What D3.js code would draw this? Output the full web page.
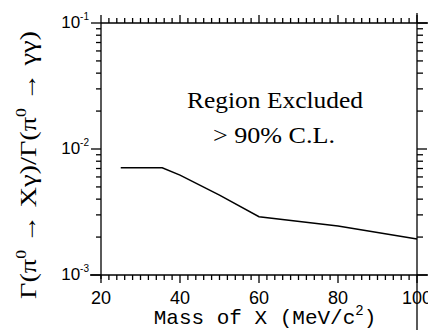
<!DOCTYPE html>
<html><head><meta charset="utf-8">
<script src="https://cdn.jsdelivr.net/npm/d3@7"></script>
<style>body{margin:0;background:#fff}svg{display:block}</style>
</head><body>
<svg id="c" width="428" height="330"></svg>
<script>
// Data
const mass = [25, 35.5, 40, 50, 60, 80, 100];
const ratio = [0.0071, 0.0071, 0.0062, 0.0043, 0.0029, 0.00245, 0.00193];
const xTicks = [20, 40, 60, 80, 100];
const yTicks = [1e-3, 1e-2, 1e-1];
const yTickExp = ["-3", "-2", "-1"];

const svg = d3.select("#c");
const L = 101, R = 417, T = 23, B = 275;
const x = d3.scaleLinear().domain([20, 100]).range([L, R]);
const y = d3.scaleLog().domain([1e-3, 1e-1]).range([B, T]);

const g = svg.append("g").attr("stroke", "#000").attr("fill", "none").attr("stroke-width", 1.3);
g.append("line").attr("x1", L - 11).attr("x2", 428).attr("y1", B).attr("y2", B);
g.append("line").attr("x1", L).attr("x2", 428).attr("y1", T).attr("y2", T);
g.append("line").attr("x1", L).attr("x2", L).attr("y1", T).attr("y2", B + 4);
g.append("line").attr("x1", R).attr("x2", R).attr("y1", T - 10).attr("y2", 330);

const xMinor = d3.range(20, 100.1, 2);
xMinor.forEach(v => {
  const major = v % 20 === 0;
  g.append("line").attr("x1", x(v)).attr("x2", x(v)).attr("y1", B).attr("y2", B + (major ? 8 : 5));
  g.append("line").attr("x1", x(v)).attr("x2", x(v)).attr("y1", T).attr("y2", T - (major ? 8 : 5));
});
const yMinor = [];
[1e-3, 1e-2].forEach(d => { for (let k = 2; k <= 9; k++) yMinor.push(d * k); });
yMinor.forEach(v => {
  g.append("line").attr("x1", L).attr("x2", L - 5).attr("y1", y(v)).attr("y2", y(v));
  g.append("line").attr("x1", R).attr("x2", R + 6).attr("y1", y(v)).attr("y2", y(v));
});
yTicks.forEach(v => {
  g.append("line").attr("x1", L).attr("x2", L - 10).attr("y1", y(v)).attr("y2", y(v));
  g.append("line").attr("x1", R).attr("x2", R + 10).attr("y1", y(v)).attr("y2", y(v));
});

const lab = svg.append("g").attr("font-family", "Liberation Sans, Arial, sans-serif").attr("fill", "#000");
xTicks.forEach(v => {
  lab.append("text").attr("x", x(v)).attr("y", 304).attr("text-anchor", "middle")
    .attr("font-size", 18).text(v);
});
yTicks.forEach((v, i) => {
  const t = lab.append("text").attr("x", 89).attr("y", y(v) + 5).attr("text-anchor", "end").attr("font-size", 17);
  t.append("tspan").text("10");
  t.append("tspan").attr("font-size", 10).attr("dy", -8).text(yTickExp[i]);
});

const line = d3.line().x((d, i) => x(mass[i])).y((d, i) => y(ratio[i]));
svg.append("path").datum(mass).attr("d", line).attr("fill", "none").attr("stroke", "#000").attr("stroke-width", 1.5);

const ann = svg.append("g").attr("font-family", "Liberation Serif, Times New Roman, serif").attr("fill", "#000").attr("font-size", 23);
ann.append("text").attr("x", 275).attr("y", 108).attr("text-anchor", "middle")
  .attr("textLength", 176).attr("lengthAdjust", "spacingAndGlyphs").text("Region Excluded");
ann.append("text").attr("x", 274).attr("y", 143).attr("text-anchor", "middle")
  .attr("textLength", 122).attr("lengthAdjust", "spacingAndGlyphs").text("> 90% C.L.");

const xt = svg.append("text").attr("x", 265).attr("y", 324).attr("text-anchor", "middle")
  .attr("font-family", "Liberation Mono, Courier New, monospace").attr("font-size", 21).attr("fill", "#000");
xt.append("tspan").text("Mass of X (MeV/c");
xt.append("tspan").attr("font-size", 14).attr("dy", -9).text("2");
xt.append("tspan").attr("dy", 9).text(")");

const yt = svg.append("text").attr("transform", "translate(36,165) rotate(-90)").attr("text-anchor", "middle")
  .attr("textLength", 268).attr("lengthAdjust", "spacingAndGlyphs")
  .attr("font-family", "Liberation Serif, Times New Roman, serif").attr("font-size", 24).attr("fill", "#000");
yt.append("tspan").text("Γ(π");
yt.append("tspan").attr("font-size", 15).attr("dy", -10).text("0");
yt.append("tspan").attr("dy", 10).text(" → Xγ)/Γ(π");
yt.append("tspan").attr("font-size", 15).attr("dy", -10).text("0");
yt.append("tspan").attr("dy", 10).text(" → γγ)");
</script>
</body></html>
